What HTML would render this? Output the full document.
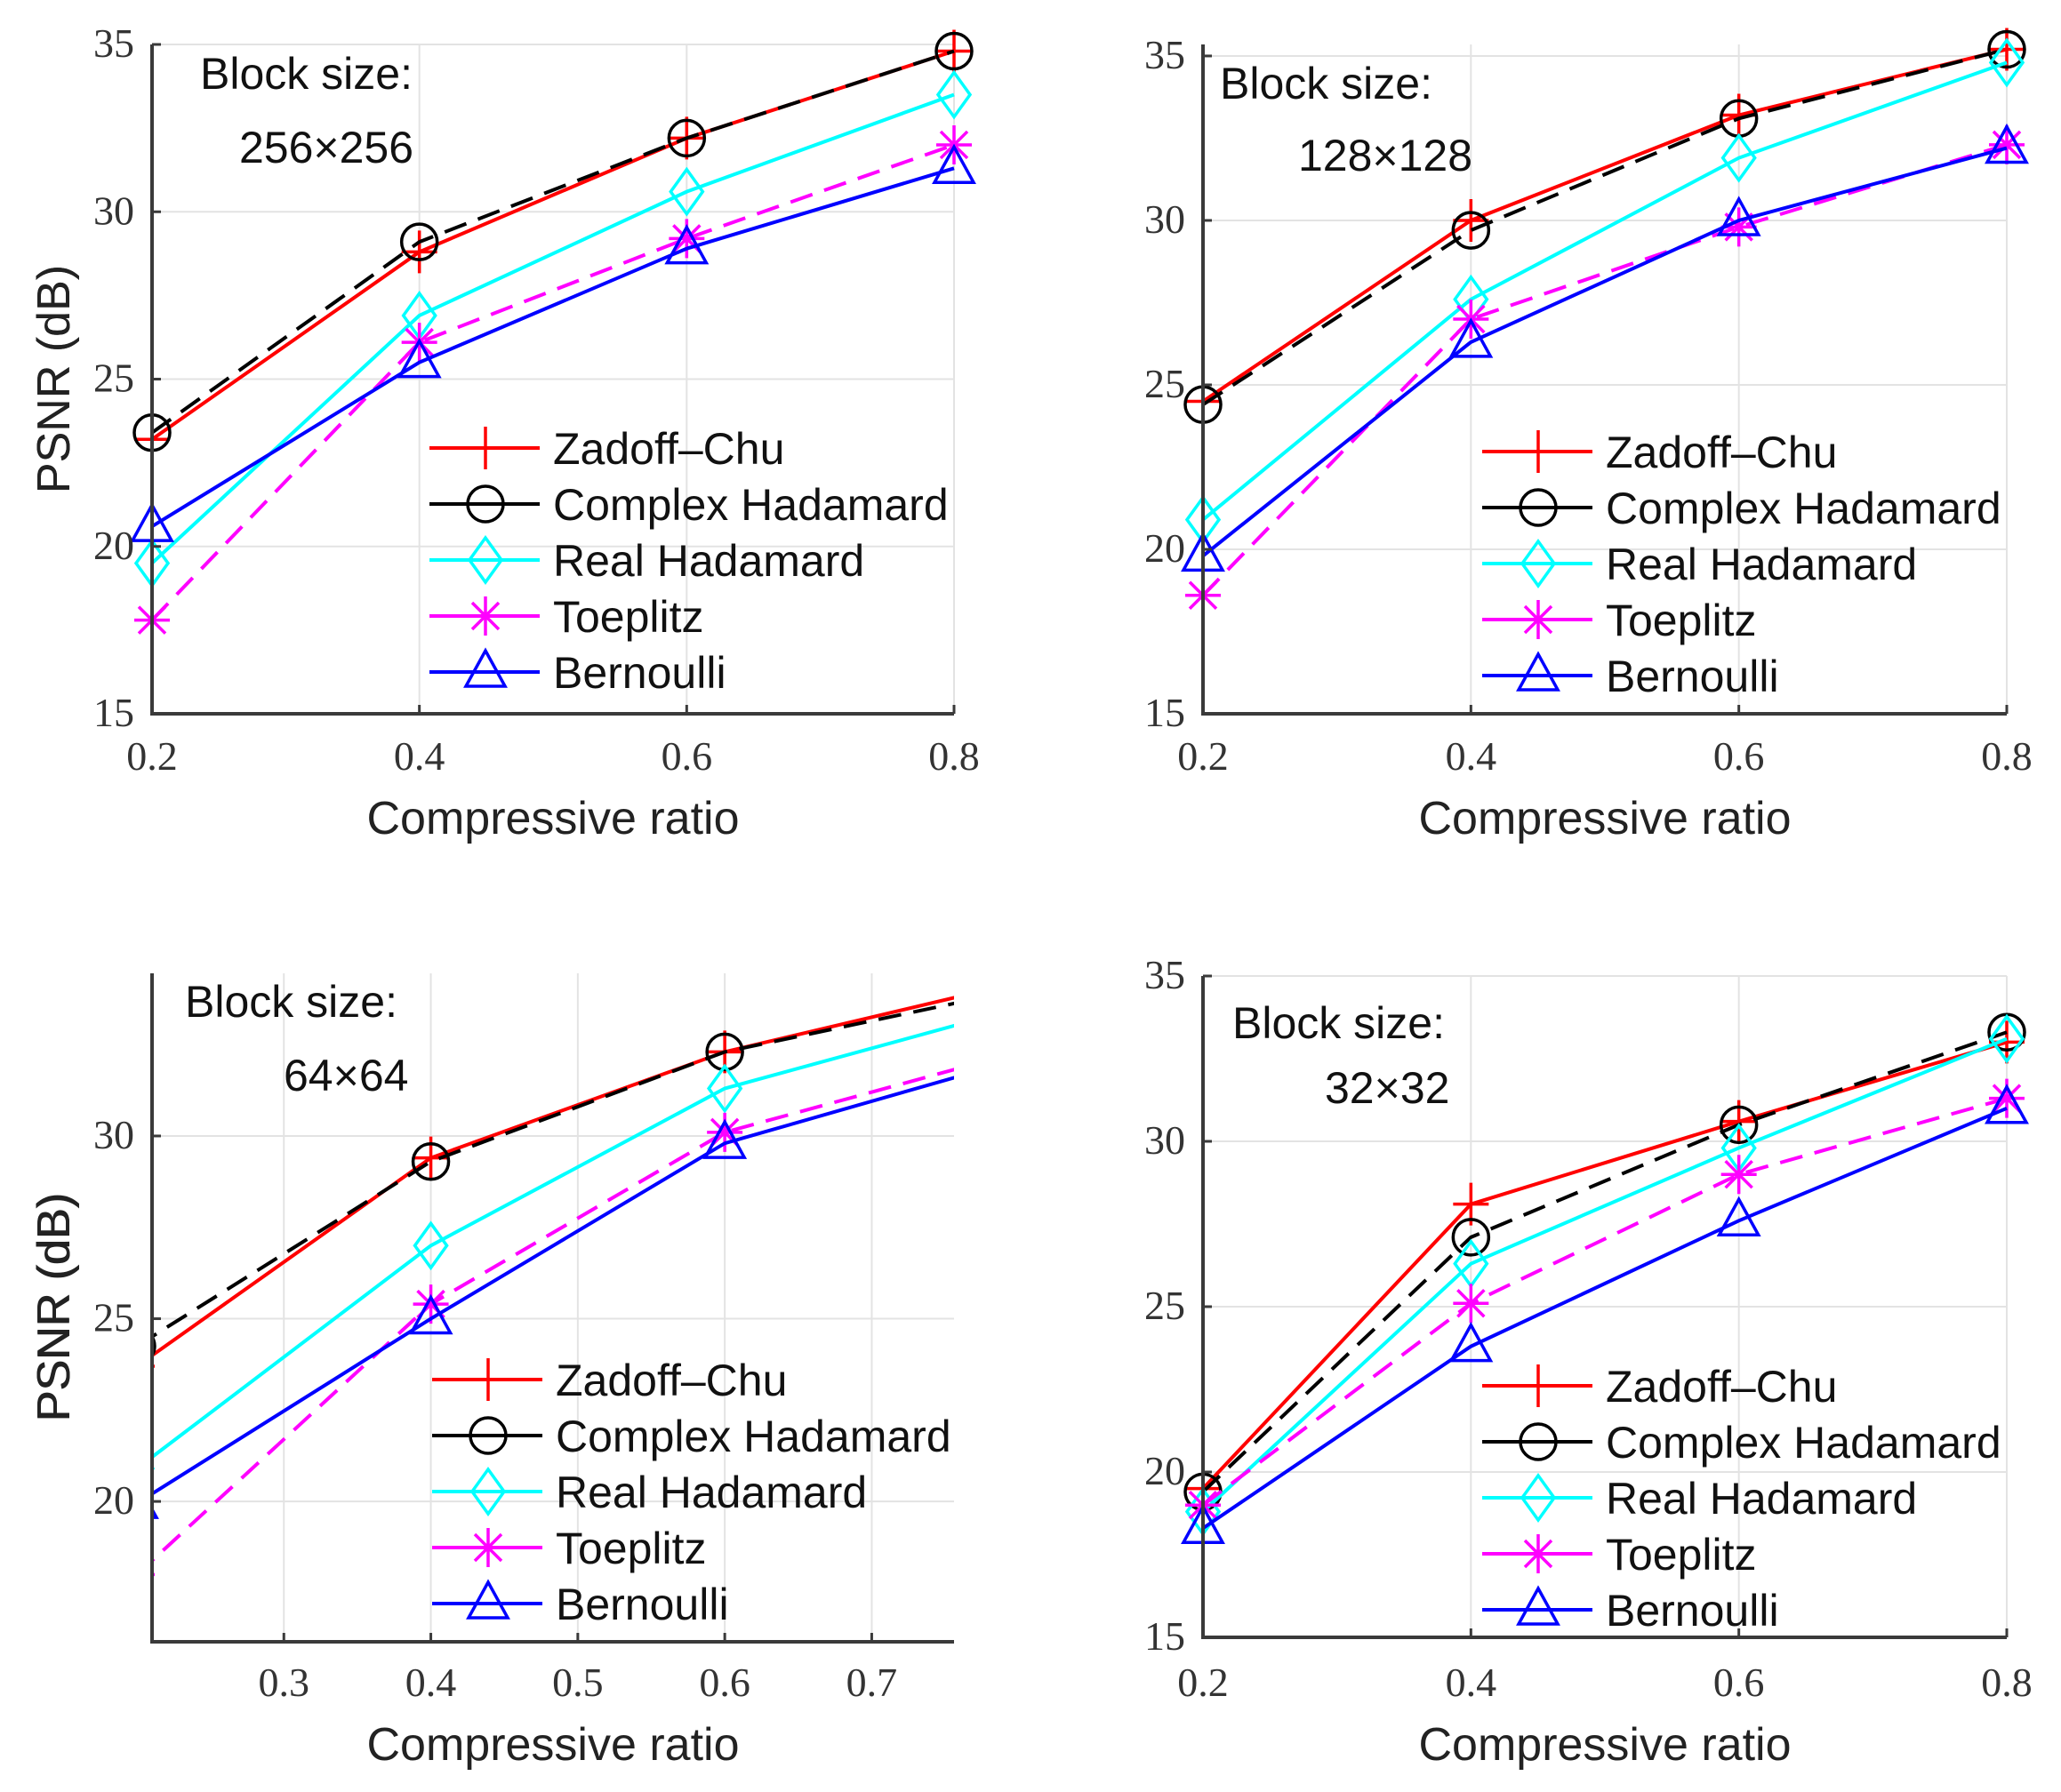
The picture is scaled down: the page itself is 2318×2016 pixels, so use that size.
<!DOCTYPE html>
<html><head><meta charset="utf-8"><style>
html,body{margin:0;padding:0;background:#fff;}
svg{display:block;}
.tick{font-family:"Liberation Serif",serif;font-size:46px;fill:#333;}
.lab{font-family:"Liberation Sans",sans-serif;font-size:52px;fill:#222;}
.blk{font-family:"Liberation Sans",sans-serif;font-size:50px;fill:#111;}
.leg{font-family:"Liberation Sans",sans-serif;font-size:50px;fill:#111;}
</style></head><body>
<svg id="fig" width="2318" height="2016" viewBox="0 0 2318 2016" xmlns="http://www.w3.org/2000/svg"></svg>
<script>
const seriesNames = ["Zadoff–Chu","Complex Hadamard","Real Hadamard","Toeplitz","Bernoulli"];
const xVals = [0.2,0.4,0.6,0.8];
// Panel 1: 256x256
const p1ZC = [23.2,28.8,32.2,34.8];
const p1CH = [23.4,29.1,32.2,34.8];
const p1RH = [19.5,26.9,30.6,33.5];
const p1T  = [17.8,26.1,29.2,32.0];
const p1B  = [20.6,25.5,28.9,31.3];
// Panel 2: 128x128
const p2ZC = [24.5,30.0,33.2,35.2];
const p2CH = [24.4,29.7,33.1,35.2];
const p2RH = [20.9,27.6,31.9,34.8];
const p2T  = [18.6,27.0,29.8,32.3];
const p2B  = [19.8,26.3,30.0,32.2];
// Panel 3: 64x64
const p3ZC = [23.7,29.4,32.3,34.2];
const p3CH = [24.25,29.3,32.3,34.0];
const p3RH = [20.9,27.0,31.3,33.5];
const p3T  = [18.0,25.4,30.1,32.3];
const p3B  = [19.95,25.0,29.8,32.1];
// Panel 4: 32x32
const p4ZC = [19.5,28.1,30.6,33.0];
const p4CH = [19.4,27.1,30.5,33.3];
const p4RH = [18.8,26.3,29.8,33.1];
const p4T  = [19.0,25.1,29.0,31.3];
const p4B  = [18.3,23.8,27.6,31.0];
const ticks1X = [0.2,0.4,0.6,0.8];
const ticks3X = [0.3,0.4,0.5,0.6,0.7];
const ticksY = [15,20,25,30,35];
const ticks3Y = [20,25,30];

const NS="http://www.w3.org/2000/svg";
const svg=document.getElementById('fig');
function mk(tag,attrs,parent){const e=document.createElementNS(NS,tag);for(const k in attrs)e.setAttribute(k,attrs[k]);(parent||svg).appendChild(e);return e;}

const colors=["#ff0000","#000000","#00ffff","#ff00ff","#0000ff"];
const dashes=["","26,14","","26,14",""];
const markers=["plus","circle","diamond","star","triangle"];

function marker(g,type,cx,cy,col){
  const s={stroke:col,'stroke-width':3.5,fill:'none'};
  let m;
  if(type==='plus'){m=mk('path',Object.assign({d:`M${cx-20},${cy}H${cx+20}M${cx},${cy-24}V${cy+24}`},s),g);}
  else if(type==='circle'){m=mk('circle',Object.assign({cx:cx,cy:cy,r:20},s),g);}
  else if(type==='diamond'){m=mk('path',Object.assign({d:`M${cx},${cy-25}L${cx+18},${cy}L${cx},${cy+25}L${cx-18},${cy}Z`},s),g);}
  else if(type==='star'){m=mk('path',Object.assign({d:`M${cx-20},${cy}H${cx+20}M${cx},${cy-22}V${cy+22}M${cx-15},${cy-15}L${cx+15},${cy+15}M${cx-15},${cy+15}L${cx+15},${cy-15}`},s),g);}
  else {m=mk('path',Object.assign({d:`M${cx},${cy-24}L${cx+22},${cy+16}L${cx-22},${cy+16}Z`},s),g);}
  return m;
}

function panel(cfg){
  const {id,L,R,T,B,x0,x1,y0,y1,xt,yt,xfmt,data,size,bx,by,sx,sy,legX,legY,legDy,xlabY,tickY,clip}=cfg;
  const g=mk('g',{});
  
  
  const X=v=>L+(v-x0)/(x1-x0)*(R-L);
  const Y=v=>B-(v-y0)/(y1-y0)*(B-T);
  xt.forEach(v=>{const l=mk('line',{x1:X(v),x2:X(v),y1:T,y2:B,stroke:'#e3e3e3','stroke-width':2},g);
    });
  yt.forEach(v=>{const l=mk('line',{x1:L,x2:R,y1:Y(v),y2:Y(v),stroke:'#e3e3e3','stroke-width':2},g);
    });
  const cp=mk('clipPath',{id:'clip-'+id},g);
  if(clip) mk('rect',{x:L,y:T,width:R-L,height:B-T},cp);
  else mk('rect',{x:L-40,y:T-40,width:R-L+80,height:B-T+80},cp);
  const plot=mk('g',{'clip-path':`url(#clip-${id})`},g);
  data.forEach((arr,i)=>{
    const pts=arr.map((v,j)=>X(xVals[j])+','+Y(v)).join(' ');
    const pl=mk('polyline',{points:pts,fill:'none',stroke:colors[i],'stroke-width':4},plot);
    if(dashes[i])pl.setAttribute('stroke-dasharray',dashes[i]);
    
    
    arr.forEach((v,j)=>{const m=marker(plot,markers[i],X(xVals[j]),Y(v),colors[i]);
      });
  });
  const ax=mk('path',{d:`M${L},${T}V${B}H${R}`,fill:'none',stroke:'#3a3a3a','stroke-width':4},g);
  
  xt.forEach(v=>{mk('line',{x1:X(v),x2:X(v),y1:B,y2:B-10,stroke:'#3a3a3a','stroke-width':3},g);
    const t=mk('text',{x:X(v),y:tickY,'text-anchor':'middle',class:'tick'},g);t.textContent=xfmt(v);
    });
  yt.forEach(v=>{mk('line',{x1:L,x2:L+10,y1:Y(v),y2:Y(v),stroke:'#3a3a3a','stroke-width':3},g);
    const t=mk('text',{x:L-20,y:Y(v)+14,'text-anchor':'end',class:'tick'},g);t.textContent=v;
    });
  const xl=mk('text',{x:(L+R)/2,y:xlabY,'text-anchor':'middle',class:'lab'},g);xl.textContent='Compressive ratio';
  
  const cy=(T+B)/2;
  const yl=mk('text',{x:0,y:0,'text-anchor':'middle',class:'lab',transform:`translate(78,${cy}) rotate(-90)`},g);yl.textContent='PSNR (dB)';
  
  const b1=mk('text',{x:bx,y:by,class:'blk'},g);b1.textContent='Block size:';
  
  const b2=mk('text',{x:sx,y:sy,class:'blk'},g);b2.textContent=size;
  
  const lg=mk('g',{},g);
  
  seriesNames.forEach((n,i)=>{
    const y=legY+i*legDy;
    const e=mk('g',{},lg);
    
    mk('line',{x1:legX,x2:legX+124,y1:y,y2:y,stroke:colors[i],'stroke-width':4},e);
    marker(e,markers[i],legX+63,y,colors[i]);
    const t=mk('text',{x:legX+139,y:y+18,class:'leg'},e);t.textContent=n;
  });
}
const f1=v=>v.toFixed(1);
panel({id:'panel-256',L:171,R:1073,T:50,B:803,x0:0.2,x1:0.8,y0:15,y1:35,xt:ticks1X,yt:ticksY,xfmt:f1,
  data:[p1ZC,p1CH,p1RH,p1T,p1B],size:'256×256',bx:225,by:100,sx:269,sy:183,legX:483,legY:504,legDy:63,xlabY:938,tickY:866});
panel({id:'panel-128',L:1353,R:2257,T:50,B:803,x0:0.2,x1:0.8,y0:15,y1:35.35,xt:ticks1X,yt:ticksY,xfmt:f1,
  data:[p2ZC,p2CH,p2RH,p2T,p2B],size:'128×128',bx:1372,by:111,sx:1460,sy:192,legX:1667,legY:508,legDy:63,xlabY:938,tickY:866});
panel({id:'panel-64',L:171,R:1073,T:1095,B:1847,x0:0.2103,x1:0.756,y0:16.16,y1:34.45,xt:ticks3X,yt:ticks3Y,xfmt:f1,
  data:[p3ZC,p3CH,p3RH,p3T,p3B],size:'64×64',bx:208,by:1144,sx:319,sy:1227,legX:486,legY:1552,legDy:63,xlabY:1980,tickY:1908,clip:true});
panel({id:'panel-32',L:1353,R:2257,T:1098,B:1842,x0:0.2,x1:0.8,y0:15,y1:35,xt:ticks1X,yt:ticksY,xfmt:f1,
  data:[p4ZC,p4CH,p4RH,p4T,p4B],size:'32×32',bx:1386,by:1168,sx:1490,sy:1241,legX:1667,legY:1559,legDy:63,xlabY:1980,tickY:1908});
</script>
</body></html>
